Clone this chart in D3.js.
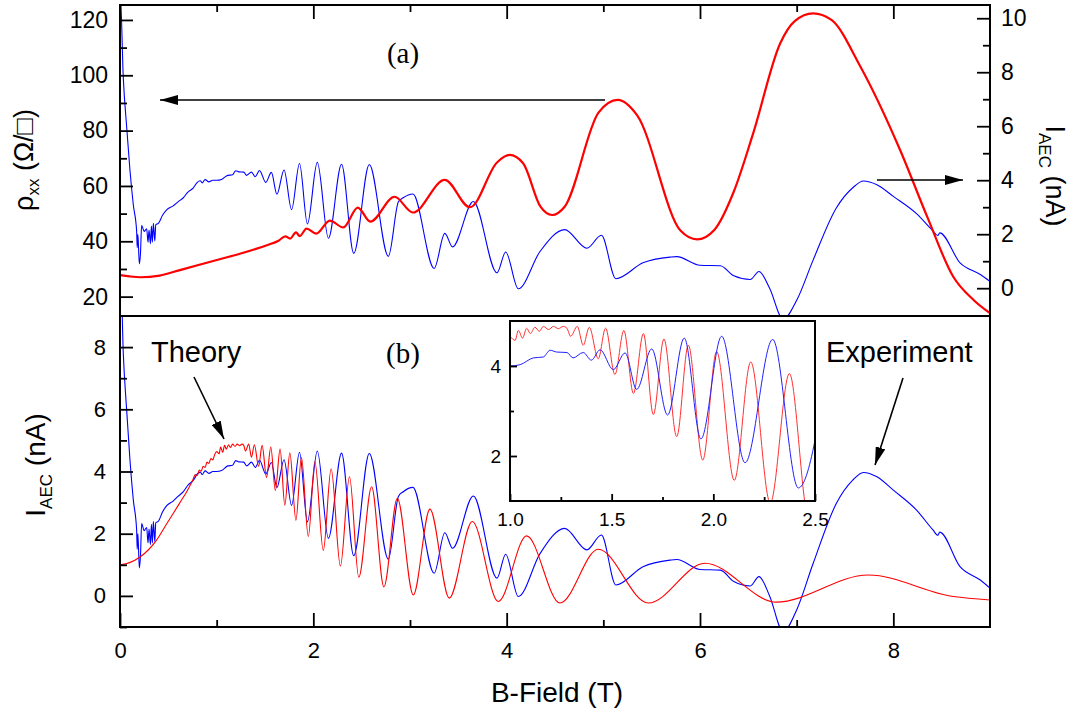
<!DOCTYPE html>
<html><head><meta charset="utf-8">
<script src="https://cdn.jsdelivr.net/npm/d3@7"></script>
<style>
html,body{margin:0;padding:0;background:#fff;}
svg{display:block;font-family:"Liberation Sans",Arial,sans-serif;}
</style></head><body>
<svg id="chart" width="1080" height="722"></svg>
<script>
// rho_xx (Ohm/sq) vs B (T), panel (a), left axis
const rhoXX = [[0,27.8],[0.1,27.3],[0.21,27.0],[0.41,27.6],[0.62,29.6],[0.83,31.6],[1.04,33.6],[1.24,35.5],[1.52,38.6],[1.64,40.2],[1.71,41.8],[1.76,41.0],[1.82,43.2],[1.86,41.9],[1.93,44.6],[2.03,42.8],[2.17,47.5],[2.31,45.0],[2.46,52.2],[2.59,47.1],[2.84,56.1],[3.03,50.4],[3.36,62.2],[3.62,52.3],[3.9,68.5],[4.03,71.2],[4.17,68.2],[4.35,52.5],[4.47,49.5],[4.6,52.5],[4.95,86.5],[5.15,91.1],[5.35,85.5],[5.8,43.8],[5.97,40.7],[6.15,44.2],[6.35,58],[6.55,79],[6.83,111.6],[6.98,119.6],[7.17,122.4],[7.36,120],[7.66,103.1],[8.07,73],[8.35,48.9],[8.62,27.2],[8.83,18.8],[9.0,14]];

// I_AEC experiment (nA) vs B (T), blue, both panels
const experiment = [[0,4.6],[0.002,11],[0.034,7.8],[0.069,5.97],[0.103,4.37],[0.138,3.08],[0.172,2.12],[0.178,1.5],[0.185,2.0],[0.2,0.9],[0.212,1.3],[0.224,2.33],[0.25,2.1],[0.276,2.2],[0.29,1.7],[0.3,2.15],[0.315,1.65],[0.325,2.3],[0.335,1.7],[0.345,2.4],[0.36,1.75],[0.37,2.35],[0.397,2.4],[0.44,2.7],[0.483,2.9],[0.55,3.05],[0.6,3.2],[0.655,3.35],[0.7,3.55],[0.759,3.72],[0.8,3.92],[0.83,3.98],[0.85,3.9],[0.88,4.02],[0.92,3.94],[0.96,4.0],[1.0,4.0],[1.05,4.03],[1.115,4.18],[1.164,4.2],[1.197,4.35],[1.23,4.31],[1.28,4.3],[1.31,4.18],[1.36,4.3],[1.40,4.13],[1.443,4.36],[1.508,3.92],[1.566,4.29],[1.623,3.48],[1.697,4.38],[1.775,2.91],[1.857,4.62],[1.939,2.38],[2.041,4.66],[2.156,1.85],[2.292,4.59],[2.418,1.29],[2.579,4.58],[2.776,1.18],[2.88,3.2],[2.93,3.35],[3.03,3.49],[3.25,0.73],[3.36,2.03],[3.44,1.53],[3.655,3.21],[3.9,0.57],[3.99,1.34],[4.12,-0.02],[4.345,1.36],[4.6,2.17],[4.83,1.48],[4.98,1.96],[5.13,0.35],[5.41,0.94],[5.69,1.15],[5.76,1.17],[6.0,0.85],[6.21,0.83],[6.35,0.46],[6.52,0.32],[6.61,0.62],[6.72,0.0],[6.86,-1.15],[7.0,-0.45],[7.17,1.04],[7.41,2.97],[7.58,3.72],[7.69,3.97],[7.83,3.83],[8.0,3.4],[8.24,2.76],[8.41,2.12],[8.46,1.95],[8.48,2.05],[8.69,0.94],[8.9,0.51],[9.0,0.25]];

// I_AEC theory (nA) vs B (T), red, panel (b)
const theory = [[0,1.0],[0.1,1.07],[0.21,1.26],[0.3,1.5],[0.38,1.8],[0.46,2.2],[0.55,2.65],[0.62,3.0],[0.69,3.35],[0.75,3.7],[0.78,3.9],[0.80,3.87],[0.82,4.05],[0.84,4.01],[0.86,4.17],[0.88,4.13],[0.90,4.3],[0.92,4.26],[0.94,4.42],[0.96,4.37],[0.98,4.55],[1.0,4.64],[1.025,4.57],[1.041,4.79],[1.062,4.62],[1.082,4.84],[1.10,4.72],[1.123,4.86],[1.144,4.77],[1.164,4.88],[1.19,4.81],[1.213,4.88],[1.238,4.83],[1.262,4.88],[1.28,4.84],[1.298,4.66],[1.331,4.88],[1.36,4.46],[1.39,4.86],[1.434,4.16],[1.47,4.84],[1.516,3.81],[1.56,4.79],[1.607,3.39],[1.656,4.72],[1.705,2.92],[1.757,4.6],[1.82,2.43],[1.877,4.46],[1.948,1.91],[2.016,4.32],[2.103,1.46],[2.184,4.09],[2.28,0.96],[2.374,3.83],[2.47,0.6],[2.603,3.51],[2.73,0.29],[2.869,3.14],[3.034,0.03],[3.206,2.79],[3.406,-0.07],[3.644,2.39],[3.913,-0.18],[4.206,1.93],[4.551,-0.23],[4.948,1.5],[5.465,-0.23],[6.05,1.05],[6.79,-0.2],[7.74,0.67],[8.62,-0.02],[9.0,-0.13]];

const xTickLabels = [0,2,4,6,8];
const xMinorTicks = [1,3,5,7];
const rhoTicks = [20,40,60,80,100,120];
const rhoMinor = [30,50,70,90,110];
const iTopTicks = [0,2,4,6,8,10];
const iTopMinor = [1,3,5,7,9];
const iBotTicks = [0,2,4,6,8];
const iBotMinor = [-1,1,3,5,7];
const insetXTicks = [1.0,1.5,2.0,2.5];
const insetXMinor = [1.25,1.75,2.25];
const insetYTicks = [2,4];
const insetYMinor = [3];

const svg = d3.select("#chart");
const L=120,R=990,T1=5,B1=316,T2=316,B2=627;
const x = d3.scaleLinear().domain([0,9]).range([L,R]);
const yL = d3.scaleLinear().domain([13,125.4]).range([B1,T1]);
const yR = d3.scaleLinear().domain([-1.03,10.49]).range([B1,T1]);
const yB = d3.scaleLinear().domain([-1,9]).range([B2,T2]);
const xi = d3.scaleLinear().domain([1,2.5]).range([510,815]);
const yi = d3.scaleLinear().domain([1,5]).range([501,321]);

const defs = svg.append("defs");
function clip(id,x0,y0,w,h){defs.append("clipPath").attr("id",id).append("rect").attr("x",x0).attr("y",y0).attr("width",w).attr("height",h);}
clip("cTop",L,T1,R-L,B1-T1);
clip("cBot",L,T2,R-L,B2-T2);
clip("cIns",510,321,305,180);
defs.append("marker").attr("id","arr").attr("viewBox","0 0 18 10").attr("refX",18).attr("refY",5)
  .attr("markerWidth",18).attr("markerHeight",10).attr("markerUnits","userSpaceOnUse").attr("orient","auto")
  .append("path").attr("d","M0,0 L18,5 L0,10 Z").attr("fill","#000");

function line(xs,ys){return d3.line().x(d=>xs(d[0])).y(d=>ys(d[1])).curve(d3.curveMonotoneX);}

// panel (a)
const gTop = svg.append("g").attr("clip-path","url(#cTop)");
gTop.append("path").datum(experiment).attr("d",line(x,yR)).attr("fill","none").attr("stroke","#0000ff").attr("stroke-width",1.1);
gTop.append("path").datum(rhoXX).attr("d",line(x,yL)).attr("fill","none").attr("stroke","#ff0000").attr("stroke-width",2.2);

// panel (b)
const gBot = svg.append("g").attr("clip-path","url(#cBot)");
gBot.append("path").datum(experiment).attr("d",line(x,yB)).attr("fill","none").attr("stroke","#0000ff").attr("stroke-width",1.1);
gBot.append("path").datum(theory).attr("d",line(x,yB)).attr("fill","none").attr("stroke","#ff0000").attr("stroke-width",1.1);

function styleAxis(g){g.select(".domain").remove();g.selectAll(".tick line").attr("stroke","#000").attr("stroke-width",1.8);g.selectAll("text").attr("fill","#000").attr("font-family","'Liberation Sans',Arial,sans-serif");}

// top axis of panel a
svg.append("g").attr("transform",`translate(0,${T1})`).call(d3.axisTop(x).tickValues(xTickLabels.filter(v=>v>0)).tickSize(-14).tickFormat("")).call(styleAxis);
svg.append("g").attr("transform",`translate(0,${T1})`).call(d3.axisTop(x).tickValues(xMinorTicks).tickSize(-7).tickFormat("")).call(styleAxis);
// left axis a
svg.append("g").attr("transform",`translate(${L},0)`).call(d3.axisLeft(yL).tickValues(rhoTicks).tickSize(-13).tickPadding(12).tickFormat(d3.format("d"))).call(styleAxis).selectAll("text").attr("font-size",23);
svg.append("g").attr("transform",`translate(${L},0)`).call(d3.axisLeft(yL).tickValues(rhoMinor).tickSize(-7).tickFormat("")).call(styleAxis);
// right axis a
svg.append("g").attr("transform",`translate(${R},0)`).call(d3.axisRight(yR).tickValues(iTopTicks).tickSize(-13).tickPadding(11).tickFormat(d3.format("d"))).call(styleAxis).selectAll("text").attr("font-size",23);
svg.append("g").attr("transform",`translate(${R},0)`).call(d3.axisRight(yR).tickValues(iTopMinor).tickSize(-7).tickFormat("")).call(styleAxis);
// left axis b
svg.append("g").attr("transform",`translate(${L},0)`).call(d3.axisLeft(yB).tickValues(iBotTicks).tickSize(-13).tickPadding(14).tickFormat(d3.format("d"))).call(styleAxis).selectAll("text").attr("font-size",22);
svg.append("g").attr("transform",`translate(${L},0)`).call(d3.axisLeft(yB).tickValues(iBotMinor).tickSize(-7).tickFormat("")).call(styleAxis);
// bottom axis
svg.append("g").attr("transform",`translate(0,${B2})`).call(d3.axisBottom(x).tickValues(xTickLabels).tickSize(-14).tickPadding(15).tickFormat(d3.format("d"))).call(styleAxis).selectAll("text").attr("font-size",22);
svg.append("g").attr("transform",`translate(0,${B2})`).call(d3.axisBottom(x).tickValues(xMinorTicks).tickSize(-7).tickFormat("")).call(styleAxis);

// frames
svg.append("rect").attr("x",L).attr("y",T1).attr("width",R-L).attr("height",B1-T1).attr("fill","none").attr("stroke","#000").attr("stroke-width",2);
svg.append("rect").attr("x",L).attr("y",T2).attr("width",R-L).attr("height",B2-T2).attr("fill","none").attr("stroke","#000").attr("stroke-width",2);

// inset
svg.append("rect").attr("x",510).attr("y",321).attr("width",305).attr("height",180).attr("fill","#fff");
const gIns = svg.append("g").attr("clip-path","url(#cIns)");
const inRange = d=>d[0]>=0.9&&d[0]<=2.7;
gIns.append("path").datum(theory.filter(inRange)).attr("d",line(xi,yi)).attr("fill","none").attr("stroke","#ff3030").attr("stroke-width",1);
gIns.append("path").datum(experiment.filter(inRange)).attr("d",line(xi,yi)).attr("fill","none").attr("stroke","#2020ff").attr("stroke-width",1);
svg.append("g").attr("transform","translate(0,501)").call(d3.axisBottom(xi).tickValues(insetXTicks).tickSize(-7).tickPadding(12).tickFormat(d3.format(".1f"))).call(styleAxis).selectAll("text").attr("font-size",19);
svg.append("g").attr("transform","translate(0,501)").call(d3.axisBottom(xi).tickValues(insetXMinor).tickSize(-4).tickFormat("")).call(styleAxis);
svg.append("g").attr("transform","translate(510,0)").call(d3.axisLeft(yi).tickValues(insetYTicks).tickSize(-7).tickPadding(9).tickFormat(d3.format("d"))).call(styleAxis).selectAll("text").attr("font-size",19);
svg.append("g").attr("transform","translate(510,0)").call(d3.axisLeft(yi).tickValues(insetYMinor).tickSize(-4).tickFormat("")).call(styleAxis);
svg.append("rect").attr("x",510).attr("y",321).attr("width",305).attr("height",180).attr("fill","none").attr("stroke","#000").attr("stroke-width",2);

// axis titles
const t1 = svg.append("text").attr("transform","translate(33,160) rotate(-90)").attr("text-anchor","middle").attr("font-size",27);
t1.append("tspan").text("ρ");
t1.append("tspan").attr("font-size",17).attr("dy",6).text("xx");
t1.append("tspan").attr("dy",-6).text(" (Ω/□)");

const t2 = svg.append("text").attr("transform","translate(1046,176) rotate(90)").attr("text-anchor","middle").attr("font-size",27);
t2.append("tspan").text("I");
t2.append("tspan").attr("font-size",17).attr("dy",7).text("AEC");
t2.append("tspan").attr("dy",-7).text(" (nA)");

const t3 = svg.append("text").attr("transform","translate(45,465) rotate(-90)").attr("text-anchor","middle").attr("font-size",28);
t3.append("tspan").text("I");
t3.append("tspan").attr("font-size",17).attr("dy",7).text("AEC");
t3.append("tspan").attr("dy",-7).text(" (nA)");

svg.append("text").attr("x",557).attr("y",702).attr("text-anchor","middle").attr("font-size",28).text("B-Field (T)");

// annotations
svg.append("text").attr("x",403).attr("y",63).attr("text-anchor","middle").attr("font-family","'Liberation Serif','Times New Roman',serif").attr("font-size",29).text("(a)");
svg.append("text").attr("x",403).attr("y",363).attr("text-anchor","middle").attr("font-family","'Liberation Serif','Times New Roman',serif").attr("font-size",29).text("(b)");
svg.append("text").attr("x",151).attr("y",362).attr("font-size",29).text("Theory");
svg.append("text").attr("x",826).attr("y",362).attr("font-size",29).text("Experiment");

function arrow(x1,y1,x2,y2){svg.append("line").attr("x1",x1).attr("y1",y1).attr("x2",x2).attr("y2",y2).attr("stroke","#000").attr("stroke-width",1.6).attr("marker-end","url(#arr)");}
arrow(605,100,160,100);
arrow(877,180,963,180);
arrow(194,377,224,439);
arrow(903,378,875,465);
</script>
</body></html>
